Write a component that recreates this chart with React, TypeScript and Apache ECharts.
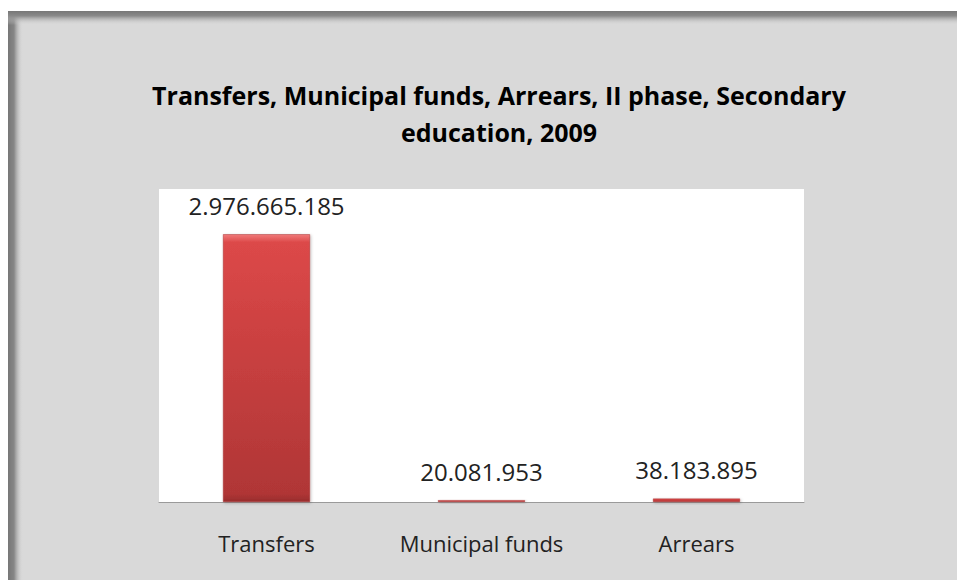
import React, { useEffect, useRef } from "react";
import * as echarts from "echarts";

const categories = ["Transfers", "Municipal funds", "Arrears"];
const values = [2976665185, 20081953, 38183895];
const titleLines = ["Transfers, Municipal funds, Arrears, II phase, Secondary", "education, 2009"];

function fmt(v: number): string {
  return String(Math.round(v)).replace(/\B(?=(\d{3})+(?!\d))/g, ".");
}

export default function App() {
  const ref = useRef<HTMLDivElement>(null);
  useEffect(() => {
    if (!ref.current) return;
    const chart = echarts.init(ref.current, null, { renderer: "svg" });
    chart.setOption({
      animation: false,
      backgroundColor: "#d9d9d9",
      title: {
        text: titleLines.join("\n"),
        left: 486,
        textAlign: "center",
        top: 60,
        textStyle: {
          fontFamily: "Open Sans",
          fontWeight: "bold",
          fontSize: 25,
          lineHeight: 37,
          color: "#000",
        },
      },
      graphic: [
        {
          type: "rect",
          shape: { x: 0, y: 0, width: 15, height: 569 },
          style: {
            fill: new echarts.graphic.LinearGradient(0, 0, 1, 0, [
              { offset: 0, color: "#777777" },
              { offset: 0.4, color: "#868686" },
              { offset: 1, color: "rgba(217,217,217,0)" },
            ]),
          },
          silent: true,
          z: 10,
        },
        {
          type: "rect",
          shape: { x: 0, y: 0, width: 949, height: 14 },
          style: {
            fill: new echarts.graphic.LinearGradient(0, 0, 0, 1, [
              { offset: 0, color: "#777777" },
              { offset: 0.35, color: "#8a8a8a" },
              { offset: 1, color: "rgba(217,217,217,0)" },
            ]),
          },
          silent: true,
          z: 10,
        },
      ],
      grid: {
        left: 151,
        right: 153,
        top: 178,
        bottom: 78,
        show: true,
        backgroundColor: "#ffffff",
        borderWidth: 0,
      },
      xAxis: {
        type: "category",
        data: categories,
        axisLine: { lineStyle: { color: "#9a9a9a", width: 1 } },
        axisTick: { show: false },
        axisLabel: {
          fontFamily: "Open Sans",
          fontSize: 22,
          color: "#222",
          margin: 30,
        },
      },
      yAxis: {
        type: "value",
        min: 0,
        max: 3480000000,
        show: false,
        splitLine: { show: false },
      },
      series: [
        {
          type: "bar",
          data: values,
          barWidth: 87,
          itemStyle: {
            color: new echarts.graphic.LinearGradient(0, 0, 0, 1, [
              { offset: 0, color: "#f07a7a" },
              { offset: 0.03, color: "#dc4848" },
              { offset: 0.97, color: "#b03636" },
              { offset: 1, color: "#982c2c" },
            ]),
            borderColor: "#a83232",
            borderWidth: 0.5,
            shadowColor: "rgba(0,0,0,0.25)",
            shadowBlur: 3,
            shadowOffsetX: 1,
            shadowOffsetY: 1,
          },
          label: {
            show: true,
            position: "top",
            distance: 17,
            fontFamily: "Open Sans",
            fontSize: 24,
            color: "#222",
            formatter: (p: any) => fmt(p.value),
          },
        },
      ],
    });
    return () => chart.dispose();
  }, []);
  return (
    <div
      ref={ref}
      style={{ position: "fixed", left: 8, top: 11, width: 949, height: 569 }}
    />
  );
}
